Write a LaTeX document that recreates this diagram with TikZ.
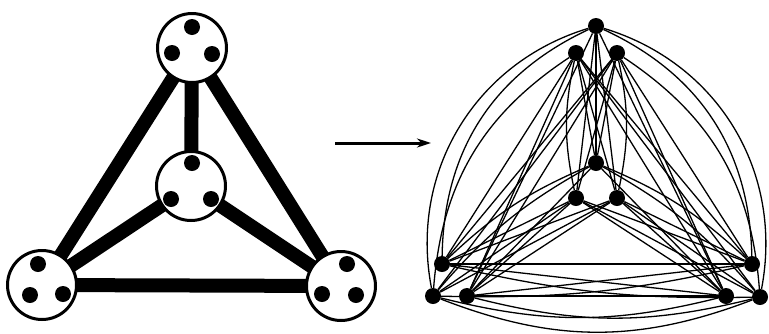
\documentclass[tikz,border=0pt]{standalone}
\usetikzlibrary{arrows.meta,backgrounds}

\tikzset{
  % bent connectors of the blown-up graph, looked up by end points
  bow/t0-l1/.style={bend right=42},
  bow/t0-l0/.style={bend right=32},
  bow/t1-l1/.style={bend right=26},
  bow/t0-r2/.style={bend left=42},
  bow/t0-r0/.style={bend left=32},
  bow/t2-r2/.style={bend left=26},
  bow/l1-r2/.style={bend right=21},
  bow/l1-r1/.style={bend right=14},
  bow/l2-r2/.style={bend right=14},
  bow/l1-r0/.style={bend right=7},
  bow/l0-r2/.style={bend right=7},
  bow/t1-m1/.style={bend right=12},
  bow/t2-m2/.style={bend left=12},
  bow/m0-l0/.style={bend right=10},
  bow/m0-l1/.style={bend right=10},
  bow/m0-r0/.style={bend left=10},
  bow/m0-r2/.style={bend left=10}
}

\begin{document}
\begin{tikzpicture}[
  x=1pt, y=-1pt,
  blob/.style={circle, draw, fill=white, line width=3pt, inner sep=0pt, minimum size=69pt},
  dot/.style={circle, fill, inner sep=0pt, minimum size=16pt},
  fat/.style={line width=14pt},
  wire/.style={line width=1.3pt}
]
\useasboundingbox (0,0) rectangle (769,333);

% left: four blobs
\node[blob] (btop) at (192,48) {};
\node[blob] (bmid) at (191,186) {};
\node[blob] (bleft) at (42,285) {};
\node[blob] (bright) at (341,286) {};

\node[dot] (btop1) at (192,27) {};
\node[dot] (btop2) at (172,53) {};
\node[dot] (btop3) at (212,54) {};
\node[dot] (bmid1) at (192,163) {};
\node[dot] (bmid2) at (171,199) {};
\node[dot] (bmid3) at (211,199) {};
\node[dot] (bleft1) at (38,264) {};
\node[dot] (bleft2) at (30,295) {};
\node[dot] (bleft3) at (63,294) {};
\node[dot] (bright1) at (347,264) {};
\node[dot] (bright2) at (322,294) {};
\node[dot] (bright3) at (356,295) {};

\begin{scope}[on background layer]
\foreach \u/\v in {btop/bmid,btop/bleft,btop/bright,bmid/bleft,bmid/bright,bleft/bright}
  \draw[fat] (\u.center) -- (\v.center);
\end{scope}

% arrow
\coordinate (from) at (335,143);
\coordinate (to) at (431,143);
\draw[line width=3pt, -{Stealth[length=14pt, width=9pt]}] (from) -- (to);

% right: the twelve vertices
\foreach \n/\x/\y in {t0/596/26, t1/576/53, t2/617/53,
                      m0/596/163, m1/576/198, m2/617/198,
                      l0/442/264, l1/433/296, l2/467/296,
                      r0/752/264, r1/726/296, r2/760/297}
  \node[dot] (\n) at (\x,\y) {};

\begin{scope}[on background layer]
\foreach \g/\h in {t/m,t/l,t/r,m/l,m/r,l/r}
  \foreach \i in {0,1,2}
    \foreach \j in {0,1,2}
      \draw[wire] (\g\i) to[bow/\g\i-\h\j/.try] (\h\j);
\end{scope}
\end{tikzpicture}
\end{document}
